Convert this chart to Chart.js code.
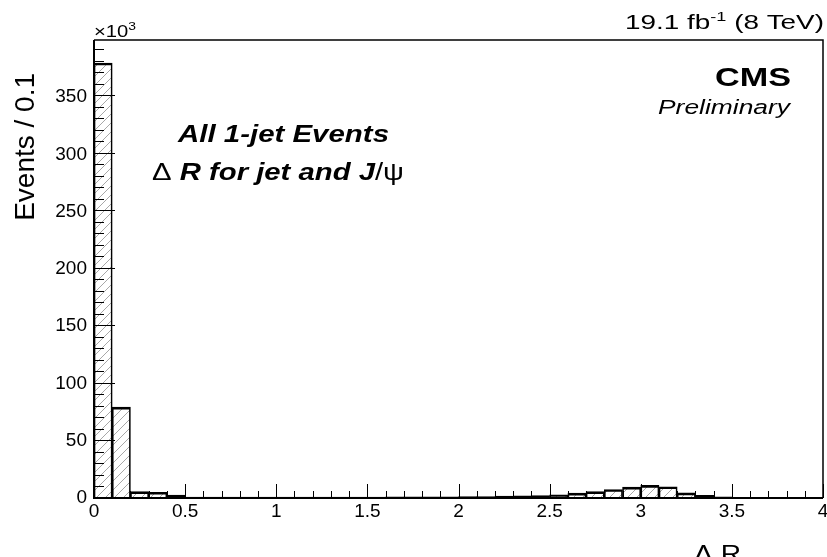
<!DOCTYPE html>
<html>
<head>
<meta charset="utf-8">
<script src="https://cdn.jsdelivr.net/npm/chart.js@4.4.1/dist/chart.umd.min.js"></script>
<style>
  html, body { margin: 0; padding: 0; background: #fff; }
</style>
</head>
<body>
<canvas id="deltaR" width="827" height="557"></canvas>
<script>
'use strict';

// low edge of each Delta R bin (width 0.1)
const binLow = [0.0, 0.1, 0.2, 0.3, 0.4, 0.5, 0.6, 0.7, 0.8, 0.9,
                1.0, 1.1, 1.2, 1.3, 1.4, 1.5, 1.6, 1.7, 1.8, 1.9,
                2.0, 2.1, 2.2, 2.3, 2.4, 2.5, 2.6, 2.7, 2.8, 2.9,
                3.0, 3.1, 3.2, 3.3, 3.4, 3.5, 3.6, 3.7, 3.8, 3.9];
// events per bin, x10^3
const events = [378, 79, 5.6, 5.0, 2.5, 0.9, 0.8, 0.8, 0.8, 0.8,
                0.8, 0.8, 0.9, 0.9, 0.9, 0.9, 1.0, 1.0, 1.1, 1.1,
                1.2, 1.3, 1.6, 1.8, 2.2, 2.8, 4.2, 5.6, 7.4, 9.4,
                11.0, 9.8, 4.4, 2.3, 1.0, 0.4, 0.15, 0.05, 0.02, 0.01];
const xTickLabels = ['0', '0.5', '1', '1.5', '2', '2.5', '3', '3.5', '4'];
const yTickLabels = ['0', '50', '100', '150', '200', '250', '300', '350'];
const yMax = 398;

const FONT = "'Liberation Sans', Arial, Helvetica, sans-serif";

function hatchPattern() {
  const c = document.createElement('canvas');
  c.width = 9; c.height = 9;
  const g = c.getContext('2d');
  g.strokeStyle = 'rgba(0,0,0,0.38)';
  g.lineWidth = 0.9;
  g.beginPath();
  g.moveTo(0, 9); g.lineTo(9, 0);
  g.moveTo(-4.5, 4.5); g.lineTo(4.5, -4.5);
  g.moveTo(4.5, 13.5); g.lineTo(13.5, 4.5);
  g.stroke();
  return g.createPattern(c, 'repeat');
}

// draws a list of text runs squeezed/stretched to a given width
function drawRuns(ctx, runs, x, y, width, align) {
  let nat = 0;
  runs.forEach(r => {
    ctx.font = r.font;
    r.w = ctx.measureText(r.text).width;
    nat += r.w;
  });
  ctx.save();
  ctx.translate(align === 'right' ? x - width : x, y);
  ctx.scale(width / nat, 1);
  ctx.textAlign = 'left';
  ctx.textBaseline = 'alphabetic';
  ctx.fillStyle = '#000';
  let cx = 0;
  runs.forEach(r => {
    ctx.font = r.font;
    ctx.fillText(r.text, cx, r.dy || 0);
    cx += r.w;
  });
  ctx.restore();
}

const rootFrame = {
  id: 'rootFrame',
  afterDatasetsDraw(chart) {
    const { ctx, chartArea: a, scales: { x, y } } = chart;
    ctx.save();
    ctx.strokeStyle = '#000';

    // inward ticks, major and minor
    ctx.lineWidth = 1;
    ctx.beginPath();
    for (let i = 0; i <= 40; i++) {
      const px = Math.round(x.getPixelForValue(i / 10)) + 0.5;
      const len = i % 5 === 0 ? 14 : 7;
      ctx.moveTo(px, a.bottom);
      ctx.lineTo(px, a.bottom - len);
    }
    for (let v = 0; v <= yMax; v += 10) {
      const py = Math.round(y.getPixelForValue(v)) + 0.5;
      const len = v % 50 === 0 ? 21 : 10;
      ctx.moveTo(a.left, py);
      ctx.lineTo(a.left + len, py);
    }
    ctx.stroke();

    // frame
    ctx.lineWidth = 1.5;
    ctx.beginPath();
    ctx.moveTo(a.left, a.top);
    ctx.lineTo(a.right, a.top);
    ctx.lineTo(a.right, a.bottom);
    ctx.stroke();
    ctx.lineWidth = 2;
    ctx.beginPath();
    ctx.moveTo(a.left, a.top);
    ctx.lineTo(a.left, a.bottom);
    ctx.lineTo(a.right, a.bottom);
    ctx.stroke();
    ctx.restore();
  },
  afterDraw(chart) {
    const ctx = chart.ctx;
    drawRuns(ctx, [
      { text: '19.1 fb', font: '20px ' + FONT },
      { text: '-1', font: '13px ' + FONT, dy: -8 },
      { text: ' (8 TeV)', font: '20px ' + FONT }
    ], 824, 29, 199, 'right');
    drawRuns(ctx, [
      { text: '\u00d710', font: '16px ' + FONT },
      { text: '3', font: '11px ' + FONT, dy: -7 }
    ], 94, 37, 42, 'left');
    drawRuns(ctx, [{ text: 'CMS', font: 'bold 25px ' + FONT }], 791, 86, 76, 'right');
    drawRuns(ctx, [{ text: 'Preliminary', font: 'italic 20px ' + FONT }], 790, 114, 132, 'right');
    drawRuns(ctx, [{ text: 'All 1-jet Events', font: 'italic bold 23px ' + FONT }], 178, 142, 211, 'left');
    drawRuns(ctx, [
      { text: '\u0394 ', font: '23px ' + FONT },
      { text: 'R for jet and J', font: 'italic bold 23px ' + FONT },
      { text: '/\u03c8', font: '23px ' + FONT }
    ], 152, 180, 252, 'left');
    drawRuns(ctx, [{ text: '\u0394 R', font: '24px ' + FONT }], 741, 562, 47, 'right');

    // y axis title, rotated, aligned to the top end
    ctx.save();
    ctx.translate(34, 73);
    ctx.rotate(-Math.PI / 2);
    ctx.font = '28px ' + FONT;
    ctx.fillStyle = '#000';
    ctx.textAlign = 'right';
    ctx.textBaseline = 'alphabetic';
    ctx.fillText('Events / 0.1', 0, 0);
    ctx.restore();
  }
};

const canvas = document.getElementById('deltaR');
new Chart(canvas.getContext('2d'), {
  type: 'bar',
  data: {
    datasets: [{
      data: binLow.map((lo, i) => ({ x: lo + 0.05, y: events[i] })),
      backgroundColor: hatchPattern(),
      borderColor: '#000',
      borderWidth: { top: 2, left: 1, right: 1, bottom: 0 },
      borderSkipped: false,
      categoryPercentage: 1,
      barPercentage: 1
    }]
  },
  options: {
    responsive: false,
    animation: false,
    devicePixelRatio: 1,
    layout: { padding: { top: 40, right: 4, left: 0, bottom: 0 } },
    plugins: { legend: { display: false }, tooltip: { enabled: false } },
    scales: {
      x: {
        type: 'linear',
        min: 0,
        max: 4,
        offset: false,
        grid: { display: false, drawTicks: false },
        border: { display: false },
        ticks: {
          stepSize: 0.5,
          autoSkip: false,
          maxRotation: 0,
          padding: 2,
          color: '#000',
          font: { family: FONT, size: 19 },
          callback: v => {
            const i = Math.round(v * 2);
            return Math.abs(v * 2 - i) < 1e-6 ? xTickLabels[i] : '';
          }
        },
        afterFit(s) { s.height = 59; s.paddingLeft = 0; s.paddingRight = 0; }
      },
      y: {
        min: 0,
        max: yMax,
        grid: { display: false, drawTicks: false },
        border: { display: false },
        ticks: {
          stepSize: 50,
          includeBounds: false,
          padding: 7,
          color: '#000',
          font: { family: FONT, size: 19 },
          callback: v => yTickLabels[Math.round(v / 50)] || ''
        },
        afterFit(s) { s.width = 94; s.paddingTop = 0; s.paddingBottom = 0; }
      }
    }
  },
  plugins: [rootFrame]
});
</script>
</body>
</html>
